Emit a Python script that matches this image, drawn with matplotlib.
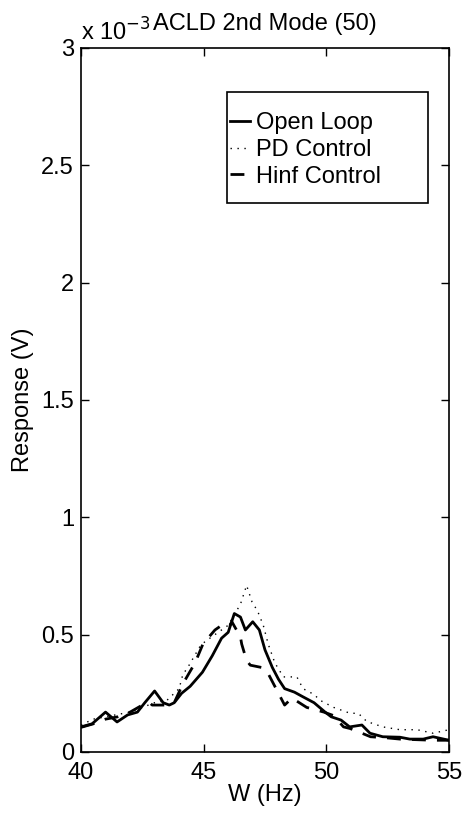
import numpy as np
import matplotlib
matplotlib.use("Agg")
import matplotlib.pyplot as plt
from matplotlib.patches import Rectangle

plt.rcParams['font.family'] = ['Liberation Sans', 'DejaVu Sans']

# frequency (Hz) and response (x 1e-3 V)
f_open = [40.0, 40.45, 41.0, 41.47, 41.9, 42.3, 42.6, 43.0, 43.35, 43.6, 43.8, 44.1, 44.45,
          44.95, 45.35, 45.73, 46.0, 46.25, 46.5, 46.7, 47.0, 47.27, 47.5, 47.8, 48.05, 48.3,
          48.7, 49.05, 49.5, 49.95, 50.2, 50.6, 50.95, 51.45, 51.78, 52.3, 53.0, 53.4, 53.95,
          54.35, 55.0]
v_open = [0.107, 0.12, 0.17, 0.128, 0.158, 0.17, 0.21, 0.26, 0.21, 0.20, 0.21, 0.25, 0.28,
          0.34, 0.41, 0.485, 0.51, 0.59, 0.575, 0.52, 0.555, 0.52, 0.435, 0.36, 0.31, 0.27,
          0.255, 0.235, 0.21, 0.17, 0.15, 0.136, 0.107, 0.115, 0.08, 0.065, 0.063, 0.055, 0.055,
          0.065, 0.05]

f_pd = [40.0, 40.5, 41.0, 41.5, 42.0, 42.5, 43.0, 43.5, 44.0, 44.15, 44.35, 44.85, 45.05,
        46.0, 46.5, 46.75, 46.97, 47.2, 47.43, 47.63, 47.9, 48.25, 48.8, 49.05, 49.5, 49.75,
        50.3, 50.97, 51.3, 51.65, 52.3, 53.0, 53.7, 54.35, 55.0]
v_pd = [0.115, 0.14, 0.15, 0.16, 0.17, 0.19, 0.21, 0.22, 0.27, 0.33, 0.36, 0.45, 0.47,
        0.54, 0.63, 0.71, 0.64, 0.60, 0.54, 0.46, 0.38, 0.32, 0.32, 0.27, 0.245, 0.22,
        0.19, 0.165, 0.165, 0.13, 0.107, 0.095, 0.095, 0.08, 0.095]

f_hinf = [40.0, 40.5, 41.0, 41.5, 42.0, 42.5, 42.8, 42.9, 43.5, 43.8, 44.15, 44.65, 44.97,
          45.46, 45.87, 46.07, 46.15, 46.5, 46.55, 46.75, 46.9, 47.37, 47.6, 47.9, 48.1, 48.3,
          48.6, 48.9, 49.2, 49.9, 50.3, 50.7, 50.97, 51.45, 51.8, 52.5, 53.0, 54.35, 55.0]
v_hinf = [0.105, 0.12, 0.14, 0.15, 0.17, 0.20, 0.21, 0.20, 0.20, 0.21, 0.29, 0.38, 0.46,
          0.52, 0.55, 0.54, 0.555, 0.49, 0.46, 0.39, 0.37, 0.36, 0.34, 0.28, 0.24, 0.20,
          0.23, 0.21, 0.19, 0.17, 0.155, 0.107, 0.10, 0.08, 0.065, 0.06, 0.055, 0.05, 0.05]

xticks = [40, 45, 50, 55]
yticks = [0, 0.5, 1, 1.5, 2, 2.5, 3]
ytick_labels = ['0', '0.5', '1', '1.5', '2', '2.5', '3']

fs = 17

fig = plt.figure(figsize=(4.67, 8.15), dpi=100)
ax = fig.add_axes([81 / 467, 63 / 815, 368 / 467, 704 / 815])

ax.plot(f_open, v_open, color='black', lw=2.0, ls='-', label='Open Loop')
ax.plot(f_pd, v_pd, color='black', lw=1.0, ls=(0, (1, 4)), label='PD Control')
ax.plot(f_hinf, v_hinf, color='black', lw=2.0, ls=(0, (5, 4)), label='Hinf Control')

ax.set_xlim(40, 55)
ax.set_ylim(0, 3)
ax.set_xticks(xticks)
ax.set_yticks(yticks)
ax.set_yticklabels(ytick_labels)
ax.tick_params(direction='in', top=True, right=True, labelsize=fs, length=6, width=1)
ax.tick_params(axis='x', pad=7)
ax.tick_params(axis='y', pad=5)
for s in ax.spines.values():
    s.set_linewidth(1.2)

ax.set_xlabel('W (Hz)', fontsize=fs, labelpad=0)
ax.set_ylabel('Response (V)', fontsize=fs, labelpad=5)
ax.set_title('ACLD 2nd Mode (50)', fontsize=fs, pad=13)
ax.text(0.0, 1.004, r'x 10$^{-3}$', transform=ax.transAxes,
        fontsize=fs, ha='left', va='bottom')

# legend box drawn separately (MATLAB-style roomy frame)
ax.add_patch(Rectangle((0.397, 0.780), 0.546, 0.1575, transform=ax.transAxes,
                       fill=True, facecolor='white', edgecolor='black', lw=1.2, zorder=4))
leg = ax.legend(loc='upper left', bbox_to_anchor=(0.405, 0.909), fontsize=fs,
                frameon=False, handlelength=0.85, handletextpad=0.25, borderpad=0,
                labelspacing=0.2, borderaxespad=0)
leg.set_zorder(5)

fig.savefig('out.png', dpi=100)
